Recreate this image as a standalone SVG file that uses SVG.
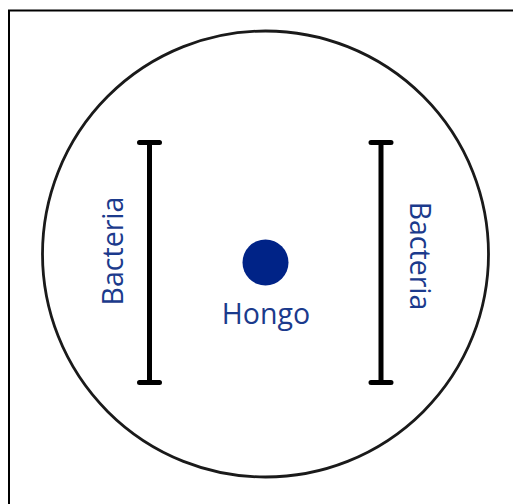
<svg xmlns="http://www.w3.org/2000/svg" width="513" height="504" viewBox="0 0 513 504">
<style>
.frame{stroke:#000;stroke-width:2;fill:none}
.dish{fill:#fff;stroke:#1a1a1a;stroke-width:2.8}
.bar{stroke:#000;stroke-width:5;stroke-linecap:round;fill:none}
.lbl{font-family:"Open Sans","Noto Sans",sans-serif;font-size:28.5px;fill:#1b3a8c;text-anchor:middle}
</style>
<rect width="513" height="504" fill="#fff"/>
<path class="frame" d="M9,504 V10.5 H513"/>
<g id="dish"><circle class="dish" cx="265.5" cy="254" r="223"/></g>
<g id="connectors">
<g id="bar-left"><path class="bar" d="M149.5,142.5 V382.5 M139.5,142.5 H159.5 M139.5,382.5 H159.5"/></g>
<g id="bar-right"><path class="bar" d="M381,142.5 V382.5 M371,142.5 H391 M371,382.5 H391"/></g>
</g>
<g id="bacteria-left"><text class="lbl" transform="translate(122.5,251) rotate(-90)">Bacteria</text></g>
<g id="bacteria-right"><text class="lbl" transform="translate(409.5,256) rotate(90)">Bacteria</text></g>
<g id="hongo">
<circle cx="265.5" cy="262.5" r="23" fill="#002387"/>
<text class="lbl" x="266" y="324">Hongo</text>
</g>
</svg>
